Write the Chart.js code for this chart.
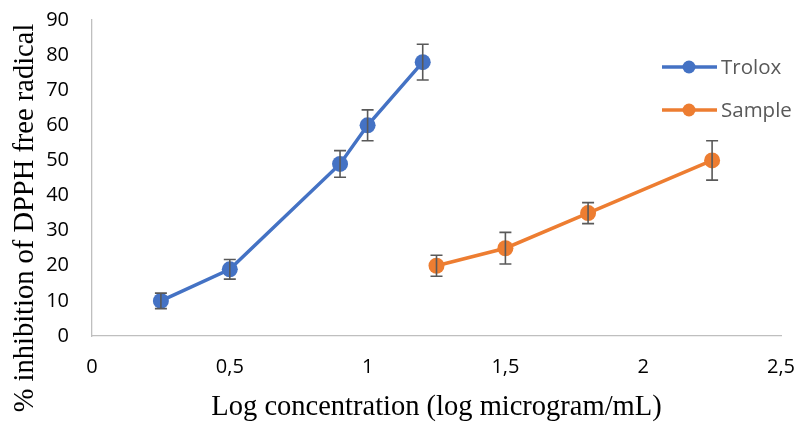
<!DOCTYPE html>
<html>
<head>
<meta charset="utf-8">
<script src="https://cdn.jsdelivr.net/npm/chart.js@4/dist/chart.umd.min.js"></script>
<style>
	html, body { margin: 0; padding: 0; background: #fff; }
	#wrap { width: 796px; height: 425px; }
</style>
</head>
<body>
<div id="wrap"><canvas id="chart"></canvas></div>
<script>
// values
const troloxX = [0.25, 0.5, 0.9, 1.0, 1.2];
const troloxY = [10, 19, 49, 60, 78];
const troloxErr = [2.2, 2.8, 3.8, 4.4, 5.1];

const sampleX = [1.25, 1.5, 1.8, 2.25];
const sampleY = [20, 25, 35, 50];
const sampleErr = [3, 4.5, 3, 5.6];

const xTicks = [0, 0.5, 1, 1.5, 2, 2.5];
const yTicks = [0, 10, 20, 30, 40, 50, 60, 70, 80, 90];

const yTitle = '% inhibition of DPPH free radical';

const blue = '#4472C4';
const orange = '#ED7D31';
const tickFont = "'Open Sans', 'Liberation Sans', sans-serif";
const titleFont = "'Liberation Serif', 'DejaVu Serif', serif";

function toPoints(xs, ys) {
	return xs.map((x, i) => ({ x: x, y: ys[i] }));
}

const errorBars = {
	id: 'errorBars',
	afterDatasetsDraw(chart) {
		const ctx = chart.ctx;
		const xs = chart.scales.x, ys = chart.scales.y;
		ctx.save();
		ctx.strokeStyle = '#595959';
		ctx.lineWidth = 1.6;
		chart.data.datasets.forEach((ds) => {
			ds.data.forEach((p, i) => {
				const px = xs.getPixelForValue(p.x);
				const top = ys.getPixelForValue(p.y + ds.errors[i]);
				const bot = ys.getPixelForValue(p.y - ds.errors[i]);
				ctx.beginPath();
				ctx.moveTo(px, top); ctx.lineTo(px, bot);
				ctx.moveTo(px - 6, top); ctx.lineTo(px + 6, top);
				ctx.moveTo(px - 6, bot); ctx.lineTo(px + 6, bot);
				ctx.stroke();
			});
		});
		ctx.restore();
	}
};

// legend on the right and the y title, placed like the original
const extras = {
	id: 'extras',
	afterDraw(chart) {
		const ctx = chart.ctx;
		ctx.save();
		chart.data.datasets.forEach((ds, i) => {
			const y = 67 + i * 43;
			ctx.strokeStyle = ds.borderColor;
			ctx.lineWidth = 3.5;
			ctx.beginPath();
			ctx.moveTo(662, y); ctx.lineTo(717, y);
			ctx.stroke();
			ctx.fillStyle = ds.borderColor;
			ctx.beginPath();
			ctx.arc(689, y, 6.5, 0, Math.PI * 2);
			ctx.fill();
			ctx.fillStyle = '#595959';
			ctx.font = "20.5px " + tickFont;
			ctx.textBaseline = 'middle';
			ctx.fillText(ds.label, 721, y + 1);
		});
		ctx.translate(26, 218);
		ctx.rotate(-Math.PI / 2);
		ctx.fillStyle = '#000';
		ctx.font = "28.5px " + titleFont;
		ctx.textAlign = 'center';
		ctx.textBaseline = 'middle';
		ctx.fillText(yTitle, 0, 0);
		ctx.restore();
	}
};

new Chart(document.getElementById('chart').getContext('2d'), {
	type: 'line',
	data: {
		datasets: [{
			label: 'Trolox',
			data: toPoints(troloxX, troloxY),
			errors: troloxErr,
			borderColor: blue,
			backgroundColor: blue,
			borderWidth: 3.5,
			pointRadius: 8,
			pointBorderWidth: 0,
			tension: 0
		}, {
			label: 'Sample',
			data: toPoints(sampleX, sampleY),
			errors: sampleErr,
			borderColor: orange,
			backgroundColor: orange,
			borderWidth: 3.5,
			pointRadius: 8,
			pointBorderWidth: 0,
			tension: 0
		}]
	},
	options: {
		responsive: true,
		maintainAspectRatio: false,
		animation: false,
		layout: { padding: { top: 20, right: 15, left: 0, bottom: 0 } },
		plugins: {
			legend: { display: false },
			tooltip: { enabled: false }
		},
		scales: {
			x: {
				type: 'linear',
				min: 0,
				max: 2.5,
				afterBuildTicks: (axis) => { axis.ticks = xTicks.map(v => ({ value: v })); },
				afterFit: (axis) => { axis.height = 89; axis.paddingLeft = 0; axis.paddingRight = 0; },
				grid: { display: false, drawTicks: false },
				border: { display: true, color: '#bfbfbf', width: 1.3 },
				ticks: {
					padding: 19,
					color: '#000',
					font: { family: tickFont, size: 20 },
					callback: (v) => String(v).replace('.', ',')
				},
				title: {
					display: true,
					text: 'Log concentration (log microgram/mL)',
					color: '#000',
					font: { family: titleFont, size: 28.5 },
					padding: { top: 0, bottom: 0 }
				}
			},
			y: {
				min: 0,
				max: 90,
				afterBuildTicks: (axis) => { axis.ticks = yTicks.map(v => ({ value: v })); },
				afterFit: (axis) => { axis.width = 92; axis.paddingTop = 0; axis.paddingBottom = 0; },
				grid: { display: false, drawTicks: false },
				border: { display: true, color: '#bfbfbf', width: 1.3 },
				ticks: {
					padding: 23,
					color: '#000',
					font: { family: tickFont, size: 20 }
				}
			}
		}
	},
	plugins: [errorBars, extras]
});
</script>
</body>
</html>
